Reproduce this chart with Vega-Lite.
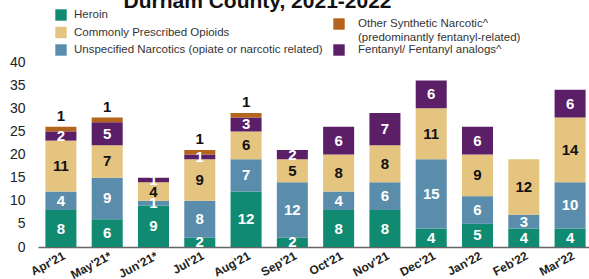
{
  "$schema": "https://vega.github.io/schema/vega-lite/v6.json",
  "width": 555,
  "height": 185,
  "autosize": "none",
  "padding": {"left": 38, "top": 62, "right": 0, "bottom": 32},
  "background": "white",
  "title": {"text": "Durham County, 2021-2022", "fontSize": 21, "font": "Liberation Sans", "fontWeight": "bold", "color": "#111", "anchor": "middle", "dx": -58, "dy": 20, "baseline": "alphabetic", "offset": 0},
  "data": {"values": [
    {"month": "Apr'21", "cat": "Heroin", "n": 8},
    {"month": "Apr'21", "cat": "Unspecified Narcotics (opiate or narcotic related)", "n": 4},
    {"month": "Apr'21", "cat": "Commonly Prescribed Opioids", "n": 11},
    {"month": "Apr'21", "cat": "Fentanyl/ Fentanyl analogs^", "n": 2},
    {"month": "Apr'21", "cat": "Other Synthetic Narcotic^", "n": 1},
    {"month": "May'21*", "cat": "Heroin", "n": 6},
    {"month": "May'21*", "cat": "Unspecified Narcotics (opiate or narcotic related)", "n": 9},
    {"month": "May'21*", "cat": "Commonly Prescribed Opioids", "n": 7},
    {"month": "May'21*", "cat": "Fentanyl/ Fentanyl analogs^", "n": 5},
    {"month": "May'21*", "cat": "Other Synthetic Narcotic^", "n": 1},
    {"month": "Jun'21*", "cat": "Heroin", "n": 9},
    {"month": "Jun'21*", "cat": "Unspecified Narcotics (opiate or narcotic related)", "n": 1},
    {"month": "Jun'21*", "cat": "Commonly Prescribed Opioids", "n": 4},
    {"month": "Jun'21*", "cat": "Fentanyl/ Fentanyl analogs^", "n": 1},
    {"month": "Jul'21", "cat": "Heroin", "n": 2},
    {"month": "Jul'21", "cat": "Unspecified Narcotics (opiate or narcotic related)", "n": 8},
    {"month": "Jul'21", "cat": "Commonly Prescribed Opioids", "n": 9},
    {"month": "Jul'21", "cat": "Fentanyl/ Fentanyl analogs^", "n": 1},
    {"month": "Jul'21", "cat": "Other Synthetic Narcotic^", "n": 1},
    {"month": "Aug'21", "cat": "Heroin", "n": 12},
    {"month": "Aug'21", "cat": "Unspecified Narcotics (opiate or narcotic related)", "n": 7},
    {"month": "Aug'21", "cat": "Commonly Prescribed Opioids", "n": 6},
    {"month": "Aug'21", "cat": "Fentanyl/ Fentanyl analogs^", "n": 3},
    {"month": "Aug'21", "cat": "Other Synthetic Narcotic^", "n": 1},
    {"month": "Sep'21", "cat": "Heroin", "n": 2},
    {"month": "Sep'21", "cat": "Unspecified Narcotics (opiate or narcotic related)", "n": 12},
    {"month": "Sep'21", "cat": "Commonly Prescribed Opioids", "n": 5},
    {"month": "Sep'21", "cat": "Fentanyl/ Fentanyl analogs^", "n": 2},
    {"month": "Oct'21", "cat": "Heroin", "n": 8},
    {"month": "Oct'21", "cat": "Unspecified Narcotics (opiate or narcotic related)", "n": 4},
    {"month": "Oct'21", "cat": "Commonly Prescribed Opioids", "n": 8},
    {"month": "Oct'21", "cat": "Fentanyl/ Fentanyl analogs^", "n": 6},
    {"month": "Nov'21", "cat": "Heroin", "n": 8},
    {"month": "Nov'21", "cat": "Unspecified Narcotics (opiate or narcotic related)", "n": 6},
    {"month": "Nov'21", "cat": "Commonly Prescribed Opioids", "n": 8},
    {"month": "Nov'21", "cat": "Fentanyl/ Fentanyl analogs^", "n": 7},
    {"month": "Dec'21", "cat": "Heroin", "n": 4},
    {"month": "Dec'21", "cat": "Unspecified Narcotics (opiate or narcotic related)", "n": 15},
    {"month": "Dec'21", "cat": "Commonly Prescribed Opioids", "n": 11},
    {"month": "Dec'21", "cat": "Fentanyl/ Fentanyl analogs^", "n": 6},
    {"month": "Jan'22", "cat": "Heroin", "n": 5},
    {"month": "Jan'22", "cat": "Unspecified Narcotics (opiate or narcotic related)", "n": 6},
    {"month": "Jan'22", "cat": "Commonly Prescribed Opioids", "n": 9},
    {"month": "Jan'22", "cat": "Fentanyl/ Fentanyl analogs^", "n": 6},
    {"month": "Feb'22", "cat": "Heroin", "n": 4},
    {"month": "Feb'22", "cat": "Unspecified Narcotics (opiate or narcotic related)", "n": 3},
    {"month": "Feb'22", "cat": "Commonly Prescribed Opioids", "n": 12},
    {"month": "Mar'22", "cat": "Heroin", "n": 4},
    {"month": "Mar'22", "cat": "Unspecified Narcotics (opiate or narcotic related)", "n": 10},
    {"month": "Mar'22", "cat": "Commonly Prescribed Opioids", "n": 14},
    {"month": "Mar'22", "cat": "Fentanyl/ Fentanyl analogs^", "n": 6}
  ]},
  "transform": [
    {"calculate": "indexof(['Heroin','Unspecified Narcotics (opiate or narcotic related)','Commonly Prescribed Opioids','Fentanyl/ Fentanyl analogs^','Other Synthetic Narcotic^'], datum.cat)", "as": "ord"},
    {"stack": "n", "groupby": ["month"], "sort": [{"field": "ord", "order": "ascending"}], "as": ["y0", "y1"]},
    {"calculate": "(datum.y0 + datum.y1) / 2", "as": "ymid"}
  ],
  "encoding": {
    "x": {
      "field": "month", "type": "nominal", "title": null,
      "sort": ["Apr'21", "May'21*", "Jun'21*", "Jul'21", "Aug'21", "Sep'21", "Oct'21", "Nov'21", "Dec'21", "Jan'22", "Feb'22", "Mar'22"],
      "scale": {"paddingInner": 0.33, "paddingOuter": 0.16}
    }
  },
  "layer": [
    {
      "transform": [{"filter": "datum.ord <= 2"}],
      "mark": {"type": "bar"},
      "encoding": {
        "y": {"field": "y0", "type": "quantitative", "title": null, "scale": {"domain": [0, 40], "nice": false}, "axis": {"values": [0, 5, 10, 15, 20, 25, 30, 35, 40], "labelOverlap": false}},
        "y2": {"field": "y1"},
        "color": {
          "field": "cat", "type": "nominal",
          "scale": {"domain": ["Heroin", "Commonly Prescribed Opioids", "Unspecified Narcotics (opiate or narcotic related)"], "range": ["#108a70", "#e4c47e", "#5a8dab"]},
          "legend": {"orient": "none", "legendX": 17, "legendY": -53, "title": null, "symbolType": "square", "symbolSize": 130, "symbolStrokeWidth": 0, "labelFont": "Liberation Sans", "labelFontSize": 11.5, "labelColor": "#333", "rowPadding": 5.5, "labelOffset": 7, "labelLimit": 400}
        }
      }
    },
    {
      "transform": [{"filter": "datum.ord >= 3"}],
      "mark": {"type": "bar"},
      "encoding": {
        "y": {"field": "y0", "type": "quantitative", "title": null, "axis": null},
        "y2": {"field": "y1"},
        "color": {
          "field": "cat", "type": "nominal",
          "scale": {"domain": ["Other Synthetic Narcotic^", "Fentanyl/ Fentanyl analogs^"], "range": ["#b5641c", "#5a1f66"]},
          "legend": {"orient": "none", "legendX": 295, "legendY": -44, "title": null, "symbolType": "square", "symbolSize": 130, "symbolStrokeWidth": 0, "labelFont": "Liberation Sans", "labelFontSize": 11.5, "labelColor": "#333", "rowPadding": 1, "labelOffset": 13, "labelLimit": 400, "lineHeight": 16,
            "labelExpr": "datum.label == 'Other Synthetic Narcotic^' ? ['Other Synthetic Narcotic^', '(predominantly fentanyl-related)'] : datum.label"}
        }
      }
    },
    {
      "transform": [{"filter": "datum.ord <= 3"}],
      "mark": {"type": "text", "font": "Liberation Sans", "fontSize": 15, "fontWeight": "bold", "baseline": "middle"},
      "encoding": {
        "y": {"field": "ymid", "type": "quantitative", "title": null, "axis": null},
        "text": {"field": "n", "type": "quantitative"},
        "color": {"condition": {"test": "datum.cat == 'Commonly Prescribed Opioids'", "value": "#111"}, "value": "white"}
      }
    },
    {
      "transform": [{"filter": "datum.ord == 4"}],
      "mark": {"type": "text", "font": "Liberation Sans", "fontSize": 15, "fontWeight": "bold", "baseline": "bottom", "dy": -3, "color": "#111"},
      "encoding": {
        "y": {"field": "y1", "type": "quantitative", "title": null, "axis": null},
        "text": {"field": "n", "type": "quantitative"}
      }
    }
  ],
  "resolve": {"scale": {"color": "independent"}, "axis": {"y": "independent"}},
  "config": {
    "view": {"stroke": null},
    "axisY": {"domain": false, "ticks": false, "grid": false, "labelFont": "Liberation Sans", "labelFontSize": 14, "labelColor": "#222", "labelPadding": 13},
    "axisX": {"domainColor": "#666", "domainWidth": 1.5, "ticks": false, "labelAngle": -28, "labelAlign": "right", "labelBaseline": "top", "labelFont": "Liberation Sans", "labelFontSize": 12, "labelFontWeight": "bold", "labelColor": "#222", "labelPadding": 3, "labelOffset": 1}
  }
}
